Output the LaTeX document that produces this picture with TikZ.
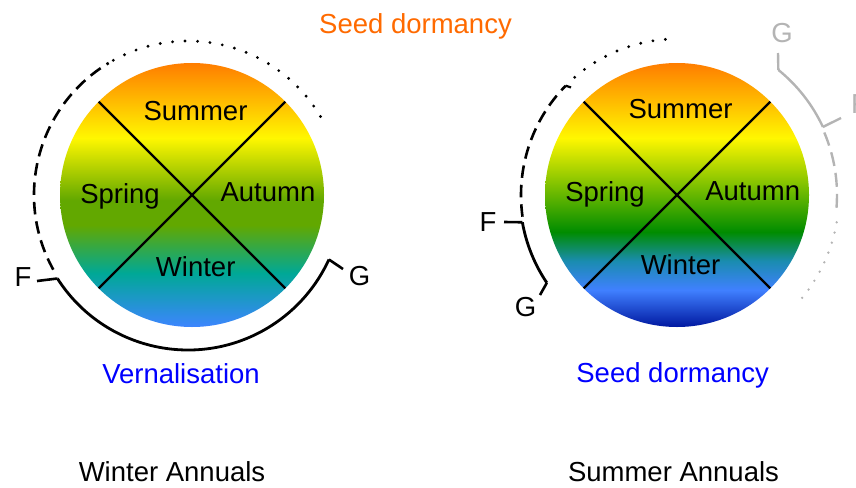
\documentclass[tikz,border=0pt]{standalone}
\usepackage{fontspec}
\setmainfont{Liberation Sans}
\usetikzlibrary{calc}
\definecolor{corange}{HTML}{FF7D00}
\definecolor{cyellow}{HTML}{FFF700}
\definecolor{lgreen}{HTML}{62A800}
\definecolor{lteal}{HTML}{00A896}
\definecolor{lblue}{HTML}{3D85FF}
\definecolor{rgreen}{HTML}{008C00}
\definecolor{rteal}{HTML}{1A8CB0}
\definecolor{rblue}{HTML}{4080FF}
\definecolor{rdark}{HTML}{0018A0}
\definecolor{sorange}{HTML}{FF6A00}
\definecolor{vblue}{HTML}{0000FF}
\definecolor{cgray}{HTML}{B4B4B4}
\pgfdeclareverticalshading{leftshade}{100bp}{color(0bp)=(lblue); color(25bp)=(lblue); color(35.2bp)=(lteal); color(44.3bp)=(lgreen); color(49bp)=(lgreen); color(60.8bp)=(cyellow); color(75bp)=(corange); color(100bp)=(corange)}
\pgfdeclareverticalshading{rightshade}{100bp}{color(0bp)=(rdark); color(25bp)=(rdark); color(32bp)=(rblue); color(37.5bp)=(rteal); color(43bp)=(rgreen); color(60.8bp)=(cyellow); color(75bp)=(corange); color(100bp)=(corange)}
\begin{document}
\begin{tikzpicture}[x=1pt,y=1pt,
  lbl/.style={anchor=base, inner sep=0pt, font=\fontsize{27.5}{33}\selectfont},
  crossline/.style={line width=2.2pt, black},
  solidarc/.style={line width=2.8pt, black},
  dasharc/.style={line width=2.6pt, black, dash pattern=on 12.5pt off 7pt},
  dotarc/.style={line width=3.2pt, black, line cap=round, dash pattern=on 0pt off 12.5pt},
  tickline/.style={line width=2.6pt, black},
  grayline/.style={line width=2.4pt, cgray},
  graydash/.style={line width=2.4pt, cgray, dash pattern=on 14pt off 7pt},
  graydot/.style={line width=2.6pt, cgray, line cap=round, dash pattern=on 0pt off 10.5pt}]
\clip (0,0) rectangle (856,-487);
% centres
\coordinate (Lc) at (192,-195);
\coordinate (La) at (188,-195);
\coordinate (Rc) at (677,-195);
% left circle
\path[shading=leftshade] (Lc) circle[radius=132];
\coordinate (L1) at ([shift={(135:132)}]Lc);
\coordinate (L2) at ([shift={(-45:132)}]Lc);
\coordinate (L3) at ([shift={(45:132)}]Lc);
\coordinate (L4) at ([shift={(225:132)}]Lc);
\draw[crossline] (L1) -- (L2);
\draw[crossline] (L3) -- (L4);
% right circle
\path[shading=rightshade] (Rc) circle[radius=132];
\coordinate (R1) at ([shift={(135:132)}]Rc);
\coordinate (R2) at ([shift={(-45:132)}]Rc);
\coordinate (R3) at ([shift={(45:132)}]Rc);
\coordinate (R4) at ([shift={(225:132)}]Rc);
\draw[crossline] (R1) -- (R2);
\draw[crossline] (R3) -- (R4);
% left arcs
\coordinate (LFs) at ([shift={(212.6:155)}]La);
\coordinate (LGs) at ([shift={(335.4:155)}]La);
\draw[solidarc] (LFs) arc[start angle=212.6, end angle=335.4, radius=155];
\coordinate (LFt) at (37,-281);
\coordinate (LGt) at (343,-269);
\draw[tickline] (LFs) -- (LFt);
\draw[tickline] (LGs) -- (LGt);
\coordinate (LDs) at ([shift={(209:154)}]La);
\draw[dasharc] (LDs) arc[start angle=209, end angle=121, radius=154];
\coordinate (LPs) at ([shift={(119:154)}]La);
\draw[dotarc] (LPs) arc[start angle=119, end angle=26.4, radius=154];
% right arcs (black)
\coordinate (RFs) at ([shift={(190:157)}]Rc);
\coordinate (RGs) at ([shift={(214:157)}]Rc);
\draw[solidarc] (RFs) arc[start angle=190, end angle=214, radius=157];
\coordinate (RFt) at (504,-222);
\coordinate (RGt) at (540,-295);
\draw[tickline] (RFs) -- (RFt);
\draw[tickline] (RGs) -- (RGt);
\coordinate (RDs) at ([shift={(188:156)}]Rc);
\coordinate (RDe) at ([shift={(135.5:156)}]Rc);
\draw[dasharc] (RDs) arc[start angle=188, end angle=135.5, radius=156];
\coordinate (RDh) at (571,-87.5);
\draw[line width=2.2pt] (RDe) -- (RDh);
\coordinate (RPs) at ([shift={(131:156)}]Rc);
\draw[dotarc] (RPs) arc[start angle=131, end angle=90, radius=156];
% right arcs (gray)
\coordinate (GSs) at ([shift={(51:161)}]Rc);
\coordinate (GSe) at ([shift={(25:161)}]Rc);
\draw[grayline] (GSs) arc[start angle=51, end angle=25, radius=161];
\coordinate (GGt) at (778,-53);
\coordinate (GFt) at (841,-118);
\draw[grayline] (GSs) -- (GGt);
\draw[grayline] (GSe) -- (GFt);
\coordinate (GDs) at ([shift={(23:160)}]Rc);
\draw[graydash] (GDs) arc[start angle=23, end angle=-5.4, radius=160];
\coordinate (GPs) at ([shift={(-9.7:162)}]Rc);
\draw[graydot] (GPs) arc[start angle=-9.7, end angle=-41, radius=162];
% left texts
\node[lbl, text=sorange] (topsd) at (415.5,-33.5) {Seed dormancy};
\node[lbl] (lsum) at (195.5,-120) {Summer};
\node[lbl] (lspr) at (120,-203) {Spring};
\node[lbl] (laut) at (268,-201.7) {Autumn};
\node[lbl] (lwin) at (195.7,-276.7) {Winter};
\node[lbl] (lF) at (23,-286.7) {F};
\node[lbl] (lG) at (359.5,-285) {G};
\node[lbl, text=vblue] (lvern) at (181,-383.3) {Vernalisation};
\node[lbl] (ltitle) at (172,-481.7) {Winter Annuals};
% right texts
\node[lbl] (rsum) at (680.5,-118.3) {Summer};
\node[lbl] (rspr) at (605,-201.7) {Spring};
\node[lbl] (raut) at (752.7,-200.3) {Autumn};
\node[lbl] (rwin) at (680.5,-274) {Winter};
\node[lbl] (rF) at (488,-231.7) {F};
\node[lbl] (rG) at (525.5,-316) {G};
\node[lbl, text=vblue] (rsd) at (672.7,-382.7) {Seed dormancy};
\node[lbl] (rtitle) at (673.5,-481) {Summer Annuals};
\node[lbl, text=cgray] (gG) at (782,-42.7) {G};
\node[lbl, text=cgray, anchor=base west] (gF) at (851,-113.3) {F};
\end{tikzpicture}
\end{document}
